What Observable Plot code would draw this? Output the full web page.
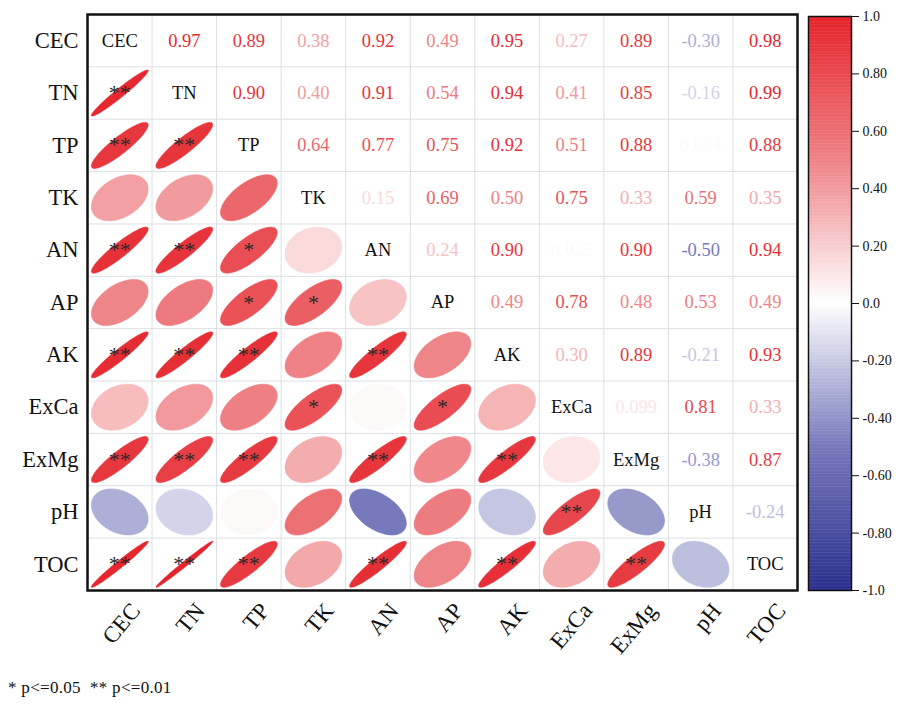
<!DOCTYPE html>
<html>
<head>
<meta charset="utf-8">
<script src="https://cdn.jsdelivr.net/npm/d3@7"></script>
<script src="https://cdn.jsdelivr.net/npm/@observablehq/plot@0.6"></script>
<style>
  html, body { margin: 0; padding: 0; background: #fff; }
  #wrap { position: relative; width: 902px; height: 704px; font-family: "Liberation Serif", serif; }
  #main { position: absolute; left: 0; top: 0; }
  #bar { position: absolute; left: 800px; top: 0; }
  #note { position: absolute; left: 8px; top: 678px; font-family: "Liberation Serif", serif; font-size: 17px; letter-spacing: 0.3px; color: #111; white-space: pre; }
  svg text { font-family: "Liberation Serif", serif; }
</style>
</head>
<body>
<div id="wrap">
  <div id="main"></div>
  <div id="bar"></div>
  <div id="note">* p&lt;=0.05  ** p&lt;=0.01</div>
</div>
<script>
// Variables (row/column order)
const vars = ["CEC", "TN", "TP", "TK", "AN", "AP", "AK", "ExCa", "ExMg", "pH", "TOC"];

// Upper-triangle correlations: each row lists r with the variables that follow it
const rCEC  = [0.97, 0.89, 0.38, 0.92, 0.49, 0.95, 0.27, 0.89, -0.30, 0.98];
const rTN   = [0.90, 0.40, 0.91, 0.54, 0.94, 0.41, 0.85, -0.16, 0.99];
const rTP   = [0.64, 0.77, 0.75, 0.92, 0.51, 0.88, 0.024, 0.88];
const rTK   = [0.15, 0.69, 0.50, 0.75, 0.33, 0.59, 0.35];
const rAN   = [0.24, 0.90, 0.025, 0.90, -0.50, 0.94];
const rAP   = [0.49, 0.78, 0.48, 0.53, 0.49];
const rAK   = [0.30, 0.89, -0.21, 0.93];
const rExCa = [0.099, 0.81, 0.33];
const rExMg = [-0.38, 0.87];
const rPH   = [-0.24];
const rRows = [rCEC, rTN, rTP, rTK, rAN, rAP, rAK, rExCa, rExMg, rPH, []];

// Lower-triangle significance marks: each row lists marks against the variables before it
const sTN   = ["**"];
const sTP   = ["**", "**"];
const sTK   = ["", "", ""];
const sAN   = ["**", "**", "*", ""];
const sAP   = ["", "", "*", "*", ""];
const sAK   = ["**", "**", "**", "", "**", ""];
const sExCa = ["", "", "", "*", "", "*", ""];
const sExMg = ["**", "**", "**", "", "**", "", "**", ""];
const sPH   = ["", "", "", "", "", "", "", "**", ""];
const sTOC  = ["**", "**", "**", "", "**", "", "**", "", "**", ""];
const sRows = [[], sTN, sTP, sTK, sAN, sAP, sAK, sExCa, sExMg, sPH, sTOC];

// Colour bar ticks
const barTicks  = [1, 0.8, 0.6, 0.4, 0.2, 0, -0.2, -0.4, -0.6, -0.8, -1];
const barLabels = ["1.0", "0.80", "0.60", "0.40", "0.20", "0.0", "-0.20", "-0.40", "-0.60", "-0.80", "-1.0"];

// ---- build tables ----
const n = vars.length;
const upper = [], lower = [], diag = [];
for (let i = 0; i < n; i++) {
  diag.push({col: i + 1, row: i + 1, name: vars[i]});
  for (let j = i + 1; j < n; j++) {
    const r = rRows[i][j - i - 1];
    upper.push({row: i + 1, col: j + 1, r});
    lower.push({row: j + 1, col: i + 1, r, sig: sRows[j][i], id: `${j}-${i}`});
  }
}
const fmt = v => {
  const a = Math.abs(v);
  const s = a < 0.1 ? d3.format(".2g")(a) : d3.format(".2f")(a);
  return (v < 0 ? "-" : "") + s;
};
// ellipse outlines from r (corrplot-style), in cell units
const S = 0.44;
const ell = [];
for (const c of lower) {
  const d = Math.acos(c.r);
  for (let k = 0; k < 72; k++) {
    const t = k / 72 * 2 * Math.PI;
    ell.push({id: c.id, r: c.r,
      x: c.col + S * Math.cos(t + d / 2),
      y: c.row - S * Math.cos(t - d / 2)});
  }
}

const colorScale = {
  type: "linear",
  domain: [-1, -0.5, 0, 0.5, 1],
  range: ["#2b2f8c", "#7679bb", "#ffffff", "#ee8286", "#e5222a"],
  clamp: true
};
const serif = "Liberation Serif, serif";
const cuts = d3.range(1.5, n, 1);

const main = Plot.plot({
  width: 800, height: 690,
  marginLeft: 87, marginRight: 3, marginTop: 14, marginBottom: 100,
  style: {fontFamily: serif, color: "#111", background: "#fff"},
  x: {type: "linear", domain: [0.5, n + 0.5]},
  y: {type: "linear", domain: [n + 0.5, 0.5]},
  color: colorScale,
  marks: [
    Plot.ruleX(cuts, {stroke: "#dcdfe3", strokeWidth: 1}),
    Plot.ruleY(cuts, {stroke: "#dcdfe3", strokeWidth: 1}),
    Plot.line(ell, {x: "x", y: "y", z: "id", fill: "r", stroke: "r", strokeWidth: 0.6, curve: "linear-closed"}),
    Plot.text(lower.filter(d => d.sig), {x: "col", y: "row", text: "sig", fontSize: 22, fill: "#2a2a2a", dy: 0, fontFamily: serif}),
    Plot.text(upper, {x: "col", y: "row", text: d => fmt(d.r), fill: "r", fontSize: 18.5, fontFamily: serif}),
    Plot.text(diag, {x: "col", y: "row", text: "name", fill: "#111", fontSize: 18.5, fontFamily: serif}),
    Plot.frame({stroke: "#111", strokeWidth: 2.5}),
    Plot.axisY({ticks: d3.range(1, n + 1), tickFormat: d => vars[d - 1], tickSize: 0, tickPadding: 9, fontSize: 22.5, fontFamily: serif, label: null}),
    Plot.axisX({ticks: d3.range(1, n + 1), tickFormat: d => vars[d - 1], tickSize: 0, tickPadding: 16, tickRotate: -50, fontSize: 23, fontFamily: serif, dx: 16, label: null})
  ]
});
document.getElementById("main").appendChild(main);

const strips = d3.range(-1, 1, 0.005);
const bar = Plot.plot({
  width: 102, height: 610,
  marginLeft: 8, marginRight: 51, marginTop: 16, marginBottom: 20,
  style: {fontFamily: serif, color: "#111", background: "transparent", overflow: "visible"},
  x: {type: "linear", domain: [0, 1], axis: null},
  y: {type: "linear", domain: [-1, 1]},
  color: colorScale,
  marks: [
    Plot.rect(strips, {x1: 0, x2: 1, y1: d => d, y2: d => Math.min(1, d + 0.0065), fill: d => d + 0.0025}),
    Plot.frame({stroke: "#111", strokeWidth: 1.5}),
    Plot.axisY({anchor: "right", ticks: barTicks, tickFormat: d => barLabels[barTicks.indexOf(d)], tickSize: 7, tickPadding: 4, fontSize: 14, fontFamily: serif, label: null})
  ]
});
document.getElementById("bar").appendChild(bar);
</script>
</body>
</html>
